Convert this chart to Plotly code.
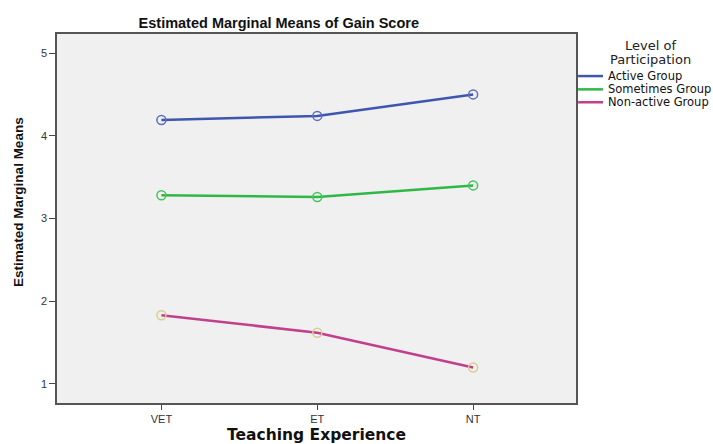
import plotly.graph_objects as go

categories = ["VET", "ET", "NT"]
active = [4.19, 4.24, 4.50]
sometimes = [3.28, 3.26, 3.40]
nonactive = [1.83, 1.62, 1.20]
series_names = ["Active Group", "Sometimes Group", "Non-active Group"]
line_colors = ["#3f56b0", "#2fb847", "#c23f8c"]
marker_colors = ["#5a6fc0", "#45c45c", "#d8cf8c"]
legend_title = ["Level of", "Participation"]

xs = list(range(len(categories)))
fig = go.Figure()
for vals, name, lc, mc in zip([active, sometimes, nonactive], series_names, line_colors, marker_colors):
    fig.add_trace(go.Scatter(x=xs, y=vals, mode="lines+markers", name=name, showlegend=False,
                             line=dict(color=lc, width=2.5),
                             marker=dict(symbol="circle-open", size=9, color=mc, line=dict(width=1.5, color=mc))))

# manual legend (paper coordinates)
leg_y = [0.886, 0.850, 0.815]
for name, lc, yy in zip(series_names, line_colors, leg_y):
    fig.add_shape(type="line", xref="paper", yref="paper", x0=1.004, x1=1.052, y0=yy, y1=yy,
                  line=dict(color=lc, width=2.5))
    fig.add_annotation(xref="paper", yref="paper", x=1.058, y=yy, text=name, showarrow=False,
                       xanchor="left", yanchor="middle",
                       font=dict(family="DejaVu Sans", size=11.5, color="#111"))
for txt, yy in zip(legend_title, [0.9675, 0.932]):
    fig.add_annotation(xref="paper", yref="paper", x=1.1426, y=yy, text=txt, showarrow=False,
                       xanchor="center", yanchor="middle",
                       font=dict(family="DejaVu Sans", size=13, color="#222"))

# y axis title (placed as in the reference, a bit above the plot centre)
fig.add_annotation(xref="paper", yref="paper", x=-0.0732, y=0.545, text="<b>Estimated Marginal Means</b>",
                   textangle=-90, showarrow=False, xanchor="center", yanchor="middle",
                   font=dict(size=13.5, color="#111"))

fig.update_layout(
    width=713, height=444,
    margin=dict(l=57, r=137, t=34, b=41),
    paper_bgcolor="white", plot_bgcolor="#f0f0f0",
    font=dict(family="Liberation Sans, Arial", size=11, color="#333"),
    title=dict(text="<b>Estimated Marginal Means of Gain Score</b>", x=0.391, xanchor="center",
               y=0.948, yanchor="middle", font=dict(size=14.5, color="#111")),
    showlegend=False,
    xaxis=dict(tickvals=xs, ticktext=categories, range=[-0.67, 2.66], showgrid=False, zeroline=False,
               showline=True, mirror=True, linecolor="#555", linewidth=1.5, automargin=False,
               ticks="outside", ticklen=5, tickcolor="#444",
               title=dict(text="<b>Teaching Experience</b>",
                          font=dict(family="DejaVu Sans", size=15.5, color="#111"), standoff=5)),
    yaxis=dict(range=[0.77, 5.23], tickvals=[1, 2, 3, 4, 5], showgrid=False, zeroline=False,
               showline=True, mirror=True, linecolor="#555", linewidth=1.5, automargin=False,
               ticks="outside", ticklen=6, tickcolor="#444"),
)
fig.write_html("out.html", config={"displayModeBar": False},
               post_script="document.body.style.margin='0';document.body.style.overflow='hidden';")
